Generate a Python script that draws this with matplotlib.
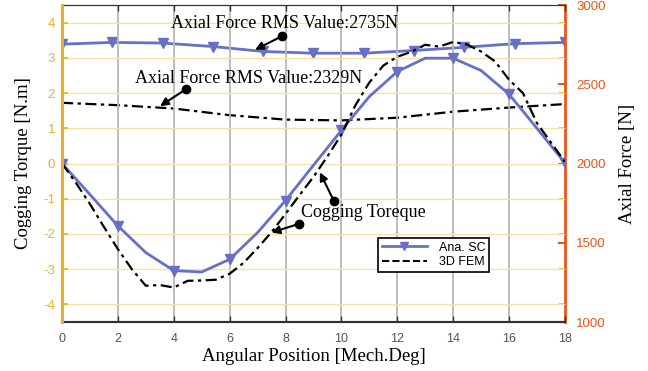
"""
Cogging torque and axial force vs angular position.
"""
import numpy as np
import matplotlib
matplotlib.use("Agg")
import matplotlib.pyplot as plt

plt.rcParams['axes.unicode_minus'] = False

# Cogging torque, analytical (Ana. SC), every 1 deg, markers every 2 deg
ang_sc = np.arange(0, 19, 1)
torque_sc = [0.0, -0.88, -1.77, -2.53, -3.04, -3.08, -2.72, -1.96, -1.05, -0.05,
             0.94, 1.9, 2.61, 2.99, 2.99, 2.64, 1.97, 1.0, 0.02]

# Cogging torque, 3D FEM, every 0.5 deg
ang_fem = np.arange(0, 18.5, 0.5)
torque_fem = [0.0, -0.55, -1.15, -1.8, -2.43, -3.0, -3.47, -3.45, -3.52, -3.33,
              -3.32, -3.3, -3.13, -2.82, -2.4, -1.95, -1.43, -0.9, -0.38, 0.2,
              0.82, 1.65, 2.3, 2.78, 3.03, 3.17, 3.37, 3.32, 3.45, 3.38,
              3.18, 2.9, 2.38, 2.0, 1.15, 0.6, 0.05]

# Axial force, analytical, 11 points
ang_ax = np.linspace(0, 18, 11)
force_sc = [2753, 2764, 2760, 2738, 2707, 2696, 2696, 2713, 2733, 2756, 2764]

# Axial force, 3D FEM
ang_ax_fem = np.arange(0, 19, 2)
force_fem = [2383, 2368, 2347, 2305, 2277, 2272, 2289, 2327, 2353, 2375]

left_ticks = [-4, -3, -2, -1, 0, 1, 2, 3, 4]
right_ticks = [1000, 1500, 2000, 2500, 3000]
x_ticks = list(range(0, 19, 2))

BLUE = '#6570C6'
YELLOW = '#EDB120'
ORANGE = '#E8561A'
SERIF = 'Liberation Serif'
SANS = 'Liberation Sans'
DASHDOT = (0, (5, 2, 1.5, 2))

fig = plt.figure(figsize=(6.48, 3.71), dpi=100)
ax = fig.add_axes([0.0957, 0.132, 0.776, 0.8545])
ax2 = ax.twinx()
ax.set_zorder(2)
ax.patch.set_visible(False)

# grid (skip the lines that sit on the spines)
for xt in x_ticks[1:-1]:
    ax.axvline(xt, color='#b8b8b8', lw=1.3, zorder=0)
for yt in left_ticks:
    ax.axhline(yt, color='#f6e2a8', lw=1.0, zorder=0)

# cogging torque on left axis
ax.plot(ang_sc, torque_sc, color=BLUE, lw=2, zorder=3)
ax.plot(ang_sc[::2], torque_sc[::2], 'v', color=BLUE, ms=7, zorder=3)
ax.plot(ang_fem, torque_fem, color='black', lw=1.6, ls=DASHDOT, zorder=3)

# axial force on right axis
ax2.set_ylim(1000, 3000)
ax2.plot(ang_ax, force_sc, color=BLUE, lw=2, marker='v', ms=7)
ax2.plot(ang_ax_fem, force_fem, color='black', lw=1.6, ls=DASHDOT)

ax.set_xlim(0, 18)
ax.set_ylim(-4.5, 4.5)
ax.set_xticks(x_ticks)
ax.set_yticks(left_ticks)
ax2.set_yticks(right_ticks)
ax2.set_yticks([2000 + t * 2000 / 9 for t in left_ticks], minor=True)

ax.tick_params(axis='x', direction='in', length=4, width=1, colors='#333333',
               labelsize=9, labelcolor='#555555', pad=8, top=True)
ax.tick_params(axis='y', direction='in', length=4, width=1.2, colors=YELLOW,
               labelsize=9.5, labelcolor=YELLOW, pad=5)
ax2.tick_params(axis='y', which='major', direction='in', length=5, width=1.5,
                colors=ORANGE, labelsize=9.5, pad=8)
ax2.tick_params(axis='y', which='minor', direction='in', length=4, width=1.2,
                colors=YELLOW)
for lab in ax.get_xticklabels() + ax.get_yticklabels() + ax2.get_yticklabels():
    lab.set_fontfamily(SANS)

for a in (ax, ax2):
    a.spines['top'].set_color('#333333')
    a.spines['bottom'].set_color('#333333')
    a.spines['bottom'].set_linewidth(1.5)
ax.spines['left'].set_color(YELLOW)
ax.spines['left'].set_linewidth(2.2)
ax.spines['left'].set_zorder(6)
ax.spines['right'].set_visible(False)
ax2.spines['left'].set_visible(False)
ax2.spines['right'].set_color(ORANGE)
ax2.spines['right'].set_linewidth(2)

ax.set_xlabel('Angular Position [Mech.Deg]', fontsize=13.5, family=SERIF, labelpad=2)
ax.set_ylabel('Cogging Torque [N.m]', fontsize=13.5, family=SERIF, labelpad=8)
ax2.set_ylabel('Axial Force [N]', fontsize=13.5, family=SERIF, labelpad=10)

# annotations
notes = [
    ('Axial Force RMS Value:2735N', (7.98, 3.97), (7.86, 3.61), (6.91, 3.23)),
    ('Axial Force RMS Value:2329N', (6.69, 2.42), (4.44, 2.11), (3.51, 1.63)),
]
for txt, tpos, tail, head in notes:
    ax.text(tpos[0], tpos[1], txt, fontsize=13, family=SERIF, ha='center',
            va='center', zorder=5)
    ax.annotate('', xy=head, xytext=tail,
                arrowprops=dict(arrowstyle='-|>', color='black', lw=1.5,
                                mutation_scale=12, shrinkA=0, shrinkB=0), zorder=5)
    ax.plot(*tail, 'o', color='black', ms=6, zorder=5)

ax.text(10.78, -1.4, 'Cogging Toreque', fontsize=13, family=SERIF, ha='center',
        va='center', zorder=5)
for tail, head in [((9.73, -1.06), (9.23, -0.25)), ((8.49, -1.71), (7.5, -1.96))]:
    ax.annotate('', xy=head, xytext=tail,
                arrowprops=dict(arrowstyle='-|>', color='black', lw=1.5,
                                mutation_scale=12, shrinkA=0, shrinkB=0), zorder=5)
    ax.plot(*tail, 'o', color='black', ms=6, zorder=5)

# legend
h1, = ax.plot([], [], color=BLUE, lw=2, marker='v', ms=6)
h2, = ax.plot([], [], color='black', lw=1.4, ls='--')
leg = ax.legend([h1, h2], ['Ana. SC', '3D FEM'], loc='upper left',
                bbox_to_anchor=(0.628, 0.265), borderaxespad=0, fancybox=False,
                framealpha=1, edgecolor='black', prop={'family': SANS, 'size': 9},
                handlelength=3.6, borderpad=0.3, labelspacing=0.2,
                handletextpad=1.0)
leg.get_frame().set_linewidth(1.2)

fig.savefig('out.png', dpi=100)
